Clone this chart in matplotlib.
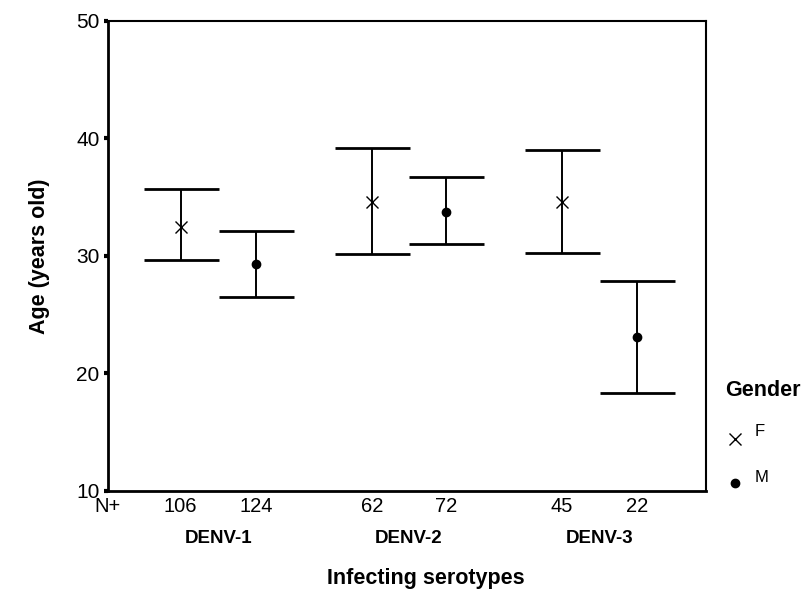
import matplotlib
matplotlib.use("Agg")
import matplotlib.pyplot as plt
from matplotlib.lines import Line2D

plt.rcParams['font.family'] = ['Liberation Sans', 'DejaVu Sans']

# data
serotypes = ["DENV-1", "DENV-2", "DENV-3"]
n_f = [106, 62, 45]
n_m = [124, 72, 22]
mean_f = [32.45, 34.57, 34.6]
lo_f = [29.68, 30.19, 30.2]
hi_f = [35.65, 39.19, 39.0]
mean_m = [29.28, 33.72, 23.1]
lo_m = [26.5, 31.04, 18.3]
hi_m = [32.1, 36.69, 27.9]

# x positions of the bars (layout)
x_f = [0.97, 3.53, 6.07]
x_m = [1.98, 4.52, 7.08]

fig = plt.figure(figsize=(8.03, 5.90), dpi=100)
ax = fig.add_axes([108 / 803, 99 / 590, 598 / 803, 470.3 / 590])

err_f = [[m - l for m, l in zip(mean_f, lo_f)], [h - m for m, h in zip(mean_f, hi_f)]]
err_m = [[m - l for m, l in zip(mean_m, lo_m)], [h - m for m, h in zip(mean_m, hi_m)]]

# error bars first, markers on top
ax.errorbar(x_f, mean_f, yerr=err_f, fmt='none', ecolor='black',
            elinewidth=1.4, capsize=27, capthick=2.0)
ax.errorbar(x_m, mean_m, yerr=err_m, fmt='none', ecolor='black',
            elinewidth=1.4, capsize=27, capthick=2.0)
ax.plot(x_f, mean_f, 'x', color='black', ms=8, mew=1.0)
ax.plot(x_m, mean_m, 'o', color='black', ms=6)

ax.set_xlim(0, 8)
ax.set_ylim(10, 50)
ax.set_yticks([10, 20, 30, 40, 50])
ax.set_xticks([])
ax.tick_params(axis='y', direction='out', length=3, width=3, pad=3, labelsize=15)
for s in ['left', 'bottom']:
    ax.spines[s].set_linewidth(2)
for s in ['top', 'right']:
    ax.spines[s].set_linewidth(1.5)

trans = ax.get_xaxis_transform()
# sample sizes row
ax.text(0, -0.034, "N+", transform=trans, ha='center', va='center', fontsize=14.5)
for x, n in zip(x_f, n_f):
    ax.text(x, -0.034, str(n), transform=trans, ha='center', va='center', fontsize=14.5)
for x, n in zip(x_m, n_m):
    ax.text(x, -0.034, str(n), transform=trans, ha='center', va='center', fontsize=14.5)

for xf, xm, name in zip(x_f, x_m, serotypes):
    ax.text((xf + xm) / 2, -0.1, name, transform=trans, ha='center', va='center',
            fontsize=13.5, fontweight='bold')

ax.text(4.25, -0.185, "Infecting serotypes", transform=trans, ha='center', va='center',
        fontsize=15.5, fontweight='bold')
ax.text(-0.114, 0.5, "Age (years old)", transform=ax.transAxes, ha='center', va='center',
        rotation=90, fontsize=15.5, fontweight='bold')

# legend drawn by hand
fig.text(725 / 803, 1 - 390 / 590, "Gender", ha='left', va='center', fontsize=15.5, fontweight='bold')
fig.add_artist(Line2D([735 / 803], [1 - 439 / 590], marker='x', color='black', ms=8, mew=1.0,
                      transform=fig.transFigure))
fig.add_artist(Line2D([735 / 803], [1 - 483 / 590], marker='o', color='black', ms=6,
                      transform=fig.transFigure))
fig.text(755 / 803, 1 - 432 / 590, "F", ha='left', va='center', fontsize=12)
fig.text(755 / 803, 1 - 477 / 590, "M", ha='left', va='center', fontsize=12)

plt.savefig("out.png", dpi=100)
plt.close()
